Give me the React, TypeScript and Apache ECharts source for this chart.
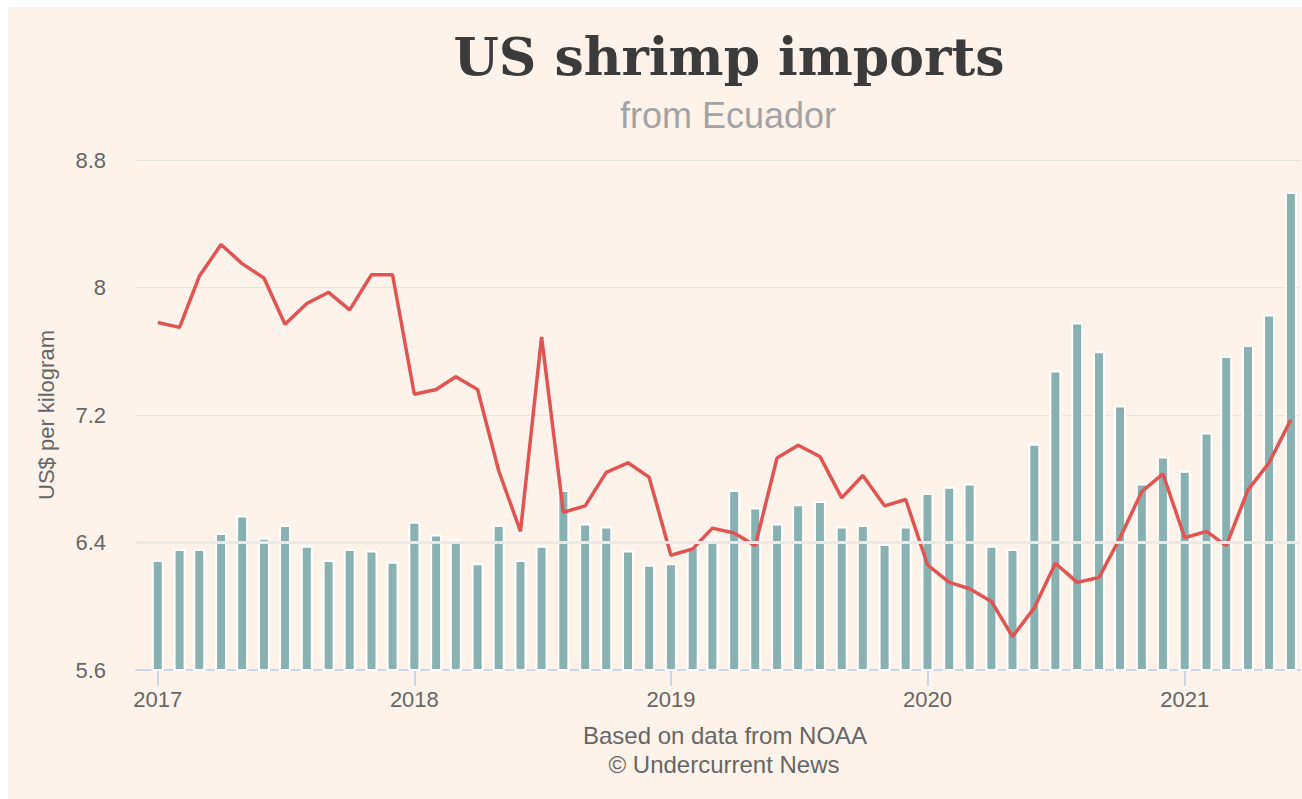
import React, { useEffect, useRef } from "react";
import * as echarts from "echarts";

// ---------- data ----------
const firstYear = 2017;
const monthCount = 54; // Jan 2017 .. Jun 2021
const months: string[] = [];
for (let i = 0; i < monthCount; i++) {
  const y = firstYear + Math.floor(i / 12);
  const m = (i % 12) + 1;
  months.push(`${y}-${String(m).padStart(2, "0")}-01`);
}

// bars (teal), read against the US$ per kilogram axis
const barValues = [
  6.29, 6.36, 6.36, 6.46, 6.57, 6.43, 6.51, 6.38, 6.29, 6.36, 6.35, 6.28,
  6.53, 6.45, 6.42, 6.27, 6.51, 6.29, 6.38, 6.73, 6.52, 6.5, 6.35, 6.26,
  6.27, 6.38, 6.42, 6.73, 6.62, 6.52, 6.64, 6.66, 6.5, 6.51, 6.39, 6.5,
  6.71, 6.75, 6.77, 6.38, 6.36, 7.02, 7.48, 7.78, 7.6, 7.26, 6.77, 6.94,
  6.85, 7.09, 7.57, 7.64, 7.83, 8.6,
];

// red line: US$ per kilogram
const priceValues = [
  7.78, 7.75, 8.07, 8.27, 8.15, 8.06, 7.77, 7.9, 7.97, 7.86, 8.08, 8.08,
  7.33, 7.36, 7.44, 7.36, 6.85, 6.47, 7.69, 6.59, 6.63, 6.84, 6.9, 6.81,
  6.32, 6.36, 6.49, 6.46, 6.38, 6.93, 7.01, 6.94, 6.68, 6.82, 6.63, 6.67,
  6.26, 6.15, 6.11, 6.03, 5.81, 5.99, 6.27, 6.15, 6.18, 6.43, 6.72, 6.83,
  6.43, 6.47, 6.38, 6.73, 6.9, 7.17,
];

const yMin = 5.6;
const yMax = 8.8;
const yStep = 0.8;

const titleText = "US shrimp imports";
const subtitleText = "from Ecuador";
const yAxisName = "US$ per kilogram";
const footerLines = ["Based on data from NOAA", "© Undercurrent News"];

const SANS = '"Liberation Sans", Arial, sans-serif';
const SERIF = '"DejaVu Serif", Georgia, serif';

export default function App() {
  const ref = useRef<HTMLDivElement>(null);

  useEffect(() => {
    if (!ref.current) return;
    const chart = echarts.init(ref.current, undefined, { renderer: "svg" });
    const DAY = 24 * 3600 * 1000;

    // visible axis span (ECharts widens a time axis holding bars by the bar width,
    // so the requested range is narrowed by the same amount to compensate)
    const plotWidth = 1164;
    const barW = 12;
    const visMin = +new Date(2016, 11, 1);
    const visMax = +new Date(2021, 5, 14);
    const visRange = visMax - visMin;
    const innerRange = visRange * (1 - barW / plotWidth);
    const pad = (visRange - innerRange) / 2;

    chart.setOption({
      animation: false,
      backgroundColor: "#FDF3EA",
      grid: { left: 128, width: plotWidth, top: 153, height: 510 },
      xAxis: {
        type: "time",
        min: visMin + pad,
        max: visMax - pad,
        minInterval: 365 * DAY,
        maxInterval: 366 * DAY,
        axisLine: { show: true, lineStyle: { color: "#ccd6eb", width: 2 } },
        axisTick: { show: true, length: 16, lineStyle: { color: "#ccd6eb", width: 2 } },
        splitLine: { show: false },
        axisLabel: {
          margin: 18,
          color: "#666666",
          fontSize: 22,
          fontFamily: SANS,
          formatter: (v: number) => {
            const d = new Date(v);
            return d.getMonth() === 0 && d.getDate() === 1 ? String(d.getFullYear()) : "";
          },
        },
      },
      yAxis: {
        type: "value",
        min: yMin,
        max: yMax,
        interval: yStep,
        name: yAxisName,
        nameLocation: "middle",
        nameGap: 79,
        nameTextStyle: { color: "#666666", fontSize: 22, fontFamily: SANS },
        axisLine: { show: false },
        axisTick: { show: false },
        splitLine: { lineStyle: { color: "#e6e6e6", width: 1 } },
        axisLabel: {
          margin: 30,
          color: "#666666",
          fontSize: 22,
          fontFamily: SANS,
          formatter: (v: number) => String(+v.toFixed(1)),
        },
      },
      series: [
        {
          type: "line",
          data: [],
          z: 1,
          silent: true,
          markLine: {
            silent: true,
            symbol: "none",
            label: { show: false },
            lineStyle: { color: "#ebe8e5", width: 3, type: "solid" },
            data: [{ yAxis: 6.4 }],
          },
        },
        {
          type: "bar",
          z: 2,
          barWidth: barW,
          itemStyle: { color: "#88B1B0", borderColor: "#ffffff", borderWidth: 2 },
          data: months.map((m, i) => [m, barValues[i]]),
        },
        {
          type: "line",
          z: 3,
          symbol: "none",
          lineStyle: { color: "#E05553", width: 3.5 },
          data: months.map((m, i) => [m, priceValues[i]]),
        },
      ],
      graphic: [
        {
          type: "text",
          style: {
            text: titleText,
            x: 721,
            y: 49,
            align: "center",
            verticalAlign: "middle",
            fill: "#3b3b3b",
            font: `bold 52px ${SERIF}`,
          },
        },
        {
          type: "text",
          style: {
            text: subtitleText,
            x: 720,
            y: 108,
            align: "center",
            verticalAlign: "middle",
            fill: "#a3a3a6",
            font: `36px ${SANS}`,
          },
        },
        {
          type: "text",
          style: {
            text: footerLines[0],
            x: 717,
            y: 728,
            align: "center",
            verticalAlign: "middle",
            fill: "#666666",
            font: `24px ${SANS}`,
          },
        },
        {
          type: "text",
          style: {
            text: footerLines[1],
            x: 716,
            y: 757,
            align: "center",
            verticalAlign: "middle",
            fill: "#666666",
            font: `24px ${SANS}`,
          },
        },
      ],
    });

    return () => chart.dispose();
  }, []);

  return (
    <div
      ref={ref}
      style={{ position: "fixed", left: 8, top: 7, width: 1294, height: 792 }}
    />
  );
}
